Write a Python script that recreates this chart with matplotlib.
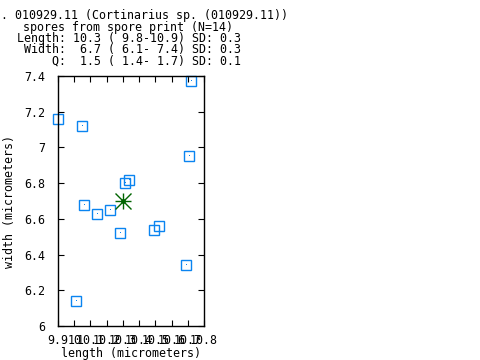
import matplotlib
matplotlib.use("Agg")
import matplotlib.pyplot as plt

# spore measurements (micrometers)
length = [9.90, 10.05, 10.72, 10.71, 10.31, 10.34, 10.06, 10.14,
          10.22, 10.28, 10.49, 10.52, 10.69, 10.01]
width = [7.16, 7.12, 7.37, 6.95, 6.80, 6.82, 6.68, 6.63,
         6.65, 6.52, 6.54, 6.56, 6.34, 6.14]
mean_length = [10.30]
mean_width = [6.70]

xticks = [9.9, 10.0, 10.1, 10.2, 10.3, 10.4, 10.5, 10.6, 10.7, 10.8]
xlabels = ["9.9", "10", "10.1", "10.2", "10.3", "10.4", "10.5", "10.6", "10.7", "10.8"]
yticks = [6.0, 6.2, 6.4, 6.6, 6.8, 7.0, 7.2, 7.4]
ylabels = ["6", "6.2", "6.4", "6.6", "6.8", "7", "7.2", "7.4"]

title_lines = [
    (". 010929.11 (Cortinarius sp. (010929.11))", 1, "left"),
    ("spores from spore print (N=14)", 23, "left"),
    ("Length: 10.3 ( 9.8-10.9) SD: 0.3", 241, "right"),
    ("Width:  6.7 ( 6.1- 7.4) SD: 0.3", 241, "right"),
    ("Q:  1.5 ( 1.4- 1.7) SD: 0.1", 241, "right"),
]

mono = "DejaVu Sans Mono"
fs = 8.4
blue = "#0a84f0"
green = "#006400"

fig = plt.figure(figsize=(4.8, 3.6), dpi=100)
ax = fig.add_axes([58 / 480, 34 / 360, 146 / 480, 250 / 360])

ax.plot(length, width, linestyle="none", marker="s", markersize=7.4,
        markerfacecolor="none", markeredgecolor=blue, markeredgewidth=1.0,
        clip_on=False)
ax.plot(length, width, linestyle="none", marker=",", color=blue, clip_on=False)
ax.plot(mean_length, mean_width, linestyle="none", marker="+", markersize=11,
        color=green, markeredgewidth=1.0)
ax.plot(mean_length, mean_width, linestyle="none", marker="x", markersize=11,
        color=green, markeredgewidth=1.0)
ax.plot(mean_length, mean_width, linestyle="none", marker="o", markersize=2.5,
        color=green)

ax.set_xlim(9.9, 10.8)
ax.set_ylim(6.0, 7.4)
ax.set_xticks(xticks)
ax.set_xticklabels(xlabels, family=mono, fontsize=fs)
ax.set_yticks(yticks)
ax.set_yticklabels(ylabels, family=mono, fontsize=fs)
ax.tick_params(direction="in", length=4.5, width=0.8, top=True, right=True,
               color="black")
ax.tick_params(axis="x", pad=6)
ax.tick_params(axis="y", pad=9)
for s in ax.spines.values():
    s.set_linewidth(1.0)

ax.set_xlabel("length (micrometers)", family=mono, fontsize=fs)
ax.xaxis.set_label_coords(0.5, -0.083)
ax.set_ylabel("width (micrometers)", family=mono, fontsize=fs)
ax.yaxis.set_label_coords(-0.29, 0.5)

for i, (txt, xpx, ha) in enumerate(title_lines):
    ypx = 19.5 + i * 11.3
    fig.text(xpx / 480, 1 - ypx / 360, txt, family=mono, fontsize=fs,
             ha=ha, va="baseline")

fig.savefig("out.png", dpi=100, facecolor="white")
